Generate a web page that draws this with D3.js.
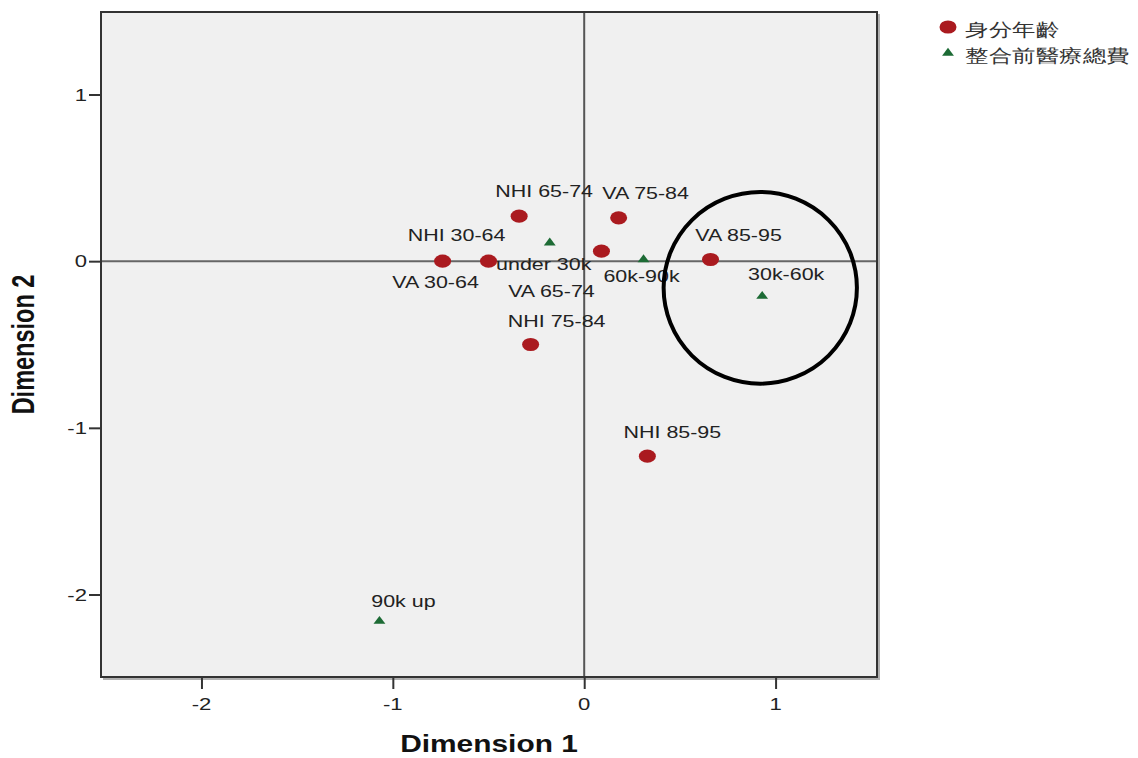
<!DOCTYPE html>
<html>
<head>
<meta charset="utf-8">
<script src="https://cdn.jsdelivr.net/npm/d3@7/dist/d3.min.js"></script>
<style>
  html, body { margin: 0; padding: 0; background: #ffffff; }
  svg { display: block; }
  text { font-family: "Liberation Sans", Arial, sans-serif; }
</style>
</head>
<body>
<svg id="chart" width="1138" height="758"></svg>
<script>
// Category points: 身分年齡 (insurance type × age group)
const idLabels = ["NHI 30-64", "VA 30-64", "NHI 65-74", "VA 65-74", "VA 75-84", "VA 85-95", "NHI 75-84", "NHI 85-95"];
const idDim1   = [-0.74, -0.50, -0.34, 0.09, 0.18, 0.66, -0.28, 0.33];
const idDim2   = [ 0.00,  0.00,  0.27, 0.06, 0.26, 0.01, -0.50, -1.17];

// Category points: 整合前醫療總費 (pre-integration medical cost)
const costLabels = ["under 30k", "60k-90k", "30k-60k", "90k up"];
const costDim1   = [-0.18, 0.31, 0.93, -1.07];
const costDim2   = [ 0.11, 0.01, -0.21, -2.16];

const xTicks = [-2, -1, 0, 1];
const yTicks = [1, 0, -1, -2];
const legendNames = ["身分年齡", "整合前醫療總費"];

// Highlight ring around the 30k-60k neighbourhood (centre and radii in dimension units)
const ringCenter = [0.92, -0.16];
const ringRadius = [0.505, 0.575];

// Label placement relative to each marker (pixels: centre dx, baseline dy)
const labelOffset = {
  "NHI 30-64": [14, -20], "VA 30-64": [-53, 27], "NHI 65-74": [25, -19],
  "VA 65-74": [-50, 46], "VA 75-84": [27, -19], "VA 85-95": [28, -19],
  "NHI 75-84": [26, -18], "NHI 85-95": [25, -18],
  "under 30k": [-6, 27], "60k-90k": [-2, 22], "30k-60k": [24, -16], "90k up": [24, -14]
};

const SX = 1.3;               // horizontal glyph stretch
const RED = "#aa1a1f", GREEN = "#1d6b35";

const svg = d3.select("#chart");
const plot = { left: 101, right: 877, top: 12, bottom: 677 };

const x = d3.scaleLinear().domain([-2.525, 1.53]).range([plot.left, plot.right]);
const y = d3.scaleLinear().domain([-2.495, 1.495]).range([plot.bottom, plot.top]);

// stretched text helper
function stext(g, px, py, str, opts) {
  const t = g.append("g").attr("transform", `translate(${px},${py}) scale(${SX},1)`)
    .append("text")
    .attr("text-anchor", opts.anchor || "middle")
    .attr("font-size", opts.size)
    .attr("fill", opts.fill || "#222")
    .text(str);
  if (opts.weight) t.attr("font-weight", opts.weight);
  if (opts.family) t.attr("font-family", opts.family);
  return t;
}

// plot background
svg.append("rect")
  .attr("x", plot.left).attr("y", plot.top)
  .attr("width", plot.right - plot.left).attr("height", plot.bottom - plot.top)
  .attr("fill", "#f0f0f0");

// reference lines at zero
svg.append("line")
  .attr("x1", x(0)).attr("x2", x(0)).attr("y1", plot.top).attr("y2", plot.bottom)
  .attr("stroke", "#555").attr("stroke-width", 2);
svg.append("line")
  .attr("x1", plot.left).attr("x2", plot.right).attr("y1", y(0)).attr("y2", y(0))
  .attr("stroke", "#666").attr("stroke-width", 2);

// frame with a soft shadow on the right/bottom
svg.append("path")
  .attr("d", `M${plot.right + 2},${plot.top + 2} V${plot.bottom + 2} H${plot.left + 2}`)
  .attr("fill", "none").attr("stroke", "#b0b0b0").attr("stroke-width", 2);
svg.append("rect")
  .attr("x", plot.left).attr("y", plot.top)
  .attr("width", plot.right - plot.left).attr("height", plot.bottom - plot.top)
  .attr("fill", "none").attr("stroke", "#333").attr("stroke-width", 2);

// axes (tick marks from d3, labels drawn stretched)
const xAxis = svg.append("g").attr("transform", `translate(0,${plot.bottom})`)
  .call(d3.axisBottom(x).tickValues(xTicks).tickFormat(d3.format("d")).tickSize(12).tickSizeOuter(0));
const yAxis = svg.append("g").attr("transform", `translate(${plot.left},0)`)
  .call(d3.axisLeft(y).tickValues(yTicks).tickFormat(d3.format("d")).tickSize(12).tickSizeOuter(0));
[xAxis, yAxis].forEach(a => {
  a.select(".domain").remove();
  a.selectAll(".tick line").attr("stroke", "#333").attr("stroke-width", 2);
  a.selectAll(".tick text").remove();
});
const tickG = svg.append("g");
xTicks.forEach(v => stext(tickG, x(v), 710, String(v), { size: 17, fill: "#222" }));
yTicks.forEach(v => stext(tickG, 87, y(v) + 6, String(v), { size: 17, anchor: "end", fill: "#222" }));

// axis titles
stext(svg, (plot.left + plot.right) / 2, 752, "Dimension 1", { size: 23, weight: "bold", fill: "#111" });
svg.append("g")
  .attr("transform", `translate(34,${(plot.top + plot.bottom) / 2}) scale(${SX},1) rotate(-90)`)
  .append("text").attr("text-anchor", "middle")
  .attr("font-size", 23.5).attr("font-weight", "bold").attr("fill", "#111")
  .text("Dimension 2");

// markers
const circleSym = d3.symbol().type(d3.symbolCircle).size(135);
const triSym = d3.symbol().type(d3.symbolTriangle).size(36);

const idData = idLabels.map((l, i) => ({ label: l, d1: idDim1[i], d2: idDim2[i] }));
const costData = costLabels.map((l, i) => ({ label: l, d1: costDim1[i], d2: costDim2[i] }));

svg.append("g").selectAll("path").data(idData).join("path")
  .attr("d", circleSym)
  .attr("transform", d => `translate(${x(d.d1)},${y(d.d2)}) scale(${SX},1)`)
  .attr("fill", RED);

svg.append("g").selectAll("path").data(costData).join("path")
  .attr("d", triSym)
  .attr("transform", d => `translate(${x(d.d1)},${y(d.d2)}) scale(${SX},1)`)
  .attr("fill", GREEN);

// point labels
const lblG = svg.append("g");
idData.concat(costData).forEach(d => {
  const o = labelOffset[d.label];
  stext(lblG, x(d.d1) + o[0], y(d.d2) + o[1], d.label, { size: 16.5, fill: "#222" });
});

// highlight ring
svg.append("ellipse")
  .attr("cx", x(ringCenter[0])).attr("cy", y(ringCenter[1]))
  .attr("rx", x(ringCenter[0] + ringRadius[0]) - x(ringCenter[0]))
  .attr("ry", y(ringCenter[1] - ringRadius[1]) - y(ringCenter[1]))
  .attr("fill", "none").attr("stroke", "#000").attr("stroke-width", 4);

// legend
const lg = svg.append("g");
lg.append("path").attr("d", circleSym).attr("transform", `translate(948,27) scale(${SX},1)`).attr("fill", RED);
lg.append("path").attr("d", triSym).attr("transform", `translate(948,53) scale(${SX},1)`).attr("fill", GREEN);
legendNames.forEach((n, i) => {
  stext(lg, 965, 36 + i * 26, n, { size: 18, anchor: "start", fill: "#333",
    family: "'Noto Sans CJK TC', 'Noto Sans CJK SC', sans-serif" });
});
</script>
</body>
</html>
